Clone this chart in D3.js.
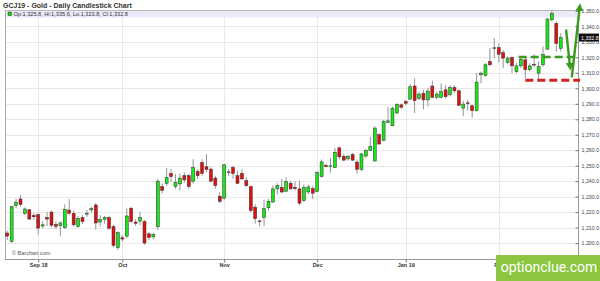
<!DOCTYPE html>
<html>
<head>
<meta charset="utf-8">
<script src="https://cdn.jsdelivr.net/npm/d3@7"></script>
<style>
  body { margin: 0; background: #fff; }
  svg { display: block; font-family: "Liberation Sans", Arial, sans-serif; }
</style>
</head>
<body>
<div id="chart"></div>
<script>
// Daily OHLC for GCJ19 (Aug 23 2018 .. Feb 22 2019)
const opens = [1206.5,1201,1224.3,1228.5,1219.2,1221.5,1217.8,1218.5,1211,1216.5,1220,1212,1211.3,1210,1221.3,1219.2,1210.6,1216.4,1218.7,1221.4,
  1224.6,1213.6,1215.3,1216.4,1210.6,1197,1203.4,1204.5,1222.5,1213.6,1214.2,1213.8,1206,1204,1210.5,1236.5,1238.6,1245,1236.5,1238.2,
  1243.5,1243.5,1240,1246.3,1252,1249.3,1247.8,1242,1230.3,1229,1246,1248.9,1243.5,1245,1240.3,1236.5,1223.2,1214.3,1216.4,1222.8,
  1226.5,1235,1236,1233.5,1238.6,1236,1235,1227.5,1233,1235.2,1233.3,1243,1250.3,1249.4,1248.7,1261.5,1256,1254.4,1257.2,1252.3,
  1247.6,1256.2,1259.8,1253,1270,1266.4,1278,1275.8,1284,1289.3,1291.4,1293,1301.5,1293.5,1296.8,1292.5,1301.5,1294.2,1294.2,1299,
  1295.8,1300.5,1298.4,1287.2,1290.6,1288.7,1285.5,1308.7,1308.3,1317.3,1326,1326.3,1323,1316.7,1320,1310.8,1314.5,1318.4,1312,1315.5,
  1309.8,1315.2,1325.3,1344.2,1342,1325.8];
const highs = [1208,1224,1228.5,1231,1223,1222,1219.5,1219,1214,1220,1221,1214,1214,1225,1228.3,1221,1217.5,1218,1221.4,1223.5,
  1226,1218,1217.5,1217.5,1211.7,1207.5,1205,1222.5,1223.5,1215.5,1220.3,1215,1207,1206.5,1241.5,1238.6,1248.5,1247.8,1244.6,1245,
  1245.7,1244.6,1254.2,1247.8,1254.2,1257.4,1248.9,1243.5,1232.9,1251,1247.8,1250,1246.7,1247.8,1242.5,1237.1,1225,1215,1228,1228.5,
  1237.1,1238.6,1241.4,1242.5,1240.3,1239.7,1240.3,1238,1237.7,1237,1246.5,1254,1250.8,1255,1261.5,1262.5,1257.7,1257,1258.3,1254,
  1258.3,1260.9,1268.5,1275.4,1271,1279.7,1287.8,1288.2,1290.3,1290.3,1292.5,1302.7,1306.4,1297.8,1299,1300,1305,1297.8,1303,1302,
  1302,1302,1299.2,1291.9,1292.5,1289.5,1309.8,1310.8,1316.3,1326,1332.4,1329,1324.7,1320.6,1320.6,1316.3,1320.6,1320,1316.3,1322,
  1317.3,1327,1345.2,1350.6,1343.2,1335.6];
const lows = [1202,1200,1222.5,1223.5,1218,1215,1215,1205.5,1209.5,1211,1210.5,1209,1204.5,1209,1218,1210.5,1210,1212.5,1217,1219.5,
  1208.8,1210.5,1212.5,1208.5,1197.3,1195.5,1201,1203,1213,1211,1211.7,1199,1202,1202.5,1208.5,1232,1237,1239.3,1235,1234,
  1239,1235,1238.3,1241.4,1243.5,1245.7,1239.3,1235,1225.8,1228,1243.5,1241.4,1238,1241,1236,1220,1212.5,1210.5,1211,1221,
  1226,1231.5,1232.3,1232.9,1234.5,1234,1224.4,1226.5,1231.5,1228.5,1232.7,1242.3,1249,1245.5,1248.7,1254,1253,1253.2,1253,1244.9,
  1246.5,1255.1,1259.4,1253,1263.6,1265.8,1277.5,1275.4,1283.6,1286.5,1289.3,1292.7,1284,1292.5,1286.5,1288.2,1293.5,1293,1293.5,1293.5,
  1294.7,1297,1288.5,1282,1285.5,1281,1285,1303.3,1307.5,1314.2,1319.5,1316.7,1313,1315.6,1309.8,1309.8,1313,1306.6,1311,1314,
  1305,1314,1324.9,1343.2,1323.8,1323.8];
const closes = [1204.5,1223.5,1226.5,1225,1222,1215.5,1217,1209.7,1211.8,1215.5,1211.5,1210.7,1213,1221.8,1219.3,1211.8,1216,1213.8,1219.3,1222.2,
  1213,1215.3,1216.6,1209.6,1198.5,1206.7,1202.6,1217.5,1214,1212.8,1216.6,1200,1203.6,1205.7,1240,1234,1242.5,1243,1239.3,1242,
  1240.8,1236.5,1248.9,1243.5,1245,1247.6,1240,1237.2,1227,1250.6,1245.6,1245,1238.6,1241.4,1237.1,1221,1215.8,1213.8,1222.2,1227,
  1235,1237.1,1233,1239.7,1235,1235.2,1225.8,1236,1236.3,1232.2,1245.5,1252.5,1249.5,1249.9,1258.7,1255.7,1253.6,1256,1253.6,1247.6,
  1257.6,1259.8,1262.6,1274.3,1264,1278.6,1279,1287.1,1289.7,1287.8,1290.3,1301,1292,1296.3,1292.5,1298.2,1294.2,1296.3,1297.8,1294.6,
  1300.5,1298.4,1289,1289.8,1290.2,1285.5,1304,1309.8,1315.2,1315.2,1326.2,1322,1319.5,1319.5,1314.5,1314.5,1318.8,1312,1314.5,1315,
  1314,1322,1344.8,1348.5,1329,1332.8];

// Month labels and the bar index where each month starts
const monthLabels = ["Sep 18", "Oct", "Nov", "Dec", "Jan 19", "Feb"];
const monthIdx = [7, 26, 49, 70, 90, 111];
const priceTicks = [1200,1210,1220,1230,1240,1250,1260,1270,1280,1290,1300,1310,1320,1330,1340,1350];

// Support / resistance levels drawn on the chart
const greenLevel = 1320.3;
const redLevel = 1305.2;

const width = 600, height = 281;
const plot = { left: 5, right: 578, top: 10, bottom: 259 };

const svg = d3.select("#chart").append("svg")
    .attr("width", width)
    .attr("height", height);

const x = d3.scaleLinear()
    .domain([-0.5, 128.9])
    .range([plot.left, plot.right]);

const y = d3.scaleLinear()
    .domain([1189.7, 1350.6])
    .range([plot.bottom, plot.top]);

// Title
svg.append("text")
    .attr("x", 3).attr("y", 8)
    .attr("font-size", 7)
    .attr("font-weight", "bold")
    .attr("fill", "#333")
    .text("GCJ19 - Gold - Daily Candlestick Chart");

// Gridlines
svg.append("g")
    .selectAll("line")
    .data(priceTicks)
    .enter().append("line")
    .attr("x1", plot.left).attr("x2", plot.right)
    .attr("y1", d => Math.round(y(d)) + 0.5)
    .attr("y2", d => Math.round(y(d)) + 0.5)
    .attr("stroke", "#e9e9e9");

svg.append("g")
    .selectAll("line")
    .data(monthIdx)
    .enter().append("line")
    .attr("x1", d => Math.round(x(d)) + 0.5)
    .attr("x2", d => Math.round(x(d)) + 0.5)
    .attr("y1", plot.top).attr("y2", plot.bottom)
    .attr("stroke", "#e9e9e9");

// Info bar at top of plot
svg.append("rect")
    .attr("x", plot.left).attr("y", plot.top)
    .attr("width", plot.right - plot.left).attr("height", 7.5)
    .attr("fill", "#e6e6fa").attr("opacity", 0.85);
svg.append("line")
    .attr("x1", plot.left).attr("x2", plot.right)
    .attr("y1", plot.top + 0.5).attr("y2", plot.top + 0.5)
    .attr("stroke", "#bbb");
svg.append("rect")
    .attr("x", 8).attr("y", 12)
    .attr("width", 3.5).attr("height", 3.5)
    .attr("fill", "#00dd00").attr("stroke", "#333").attr("stroke-width", 0.5);
const last = closes.length - 1;
svg.append("text")
    .attr("x", 13.5).attr("y", 15.7)
    .attr("font-size", 5.6)
    .attr("fill", "#333")
    .text(`Op:${d3.format(",.1f")(opens[last])}, Hi:${d3.format(",.1f")(highs[last])}, Lo:${d3.format(",.1f")(lows[last])}, Cl:${d3.format(",.1f")(closes[last])}`);

// Axes lines
svg.append("line")
    .attr("x1", plot.left + 0.5).attr("x2", plot.left + 0.5)
    .attr("y1", plot.top).attr("y2", plot.bottom)
    .attr("stroke", "#aaa");
svg.append("line")
    .attr("x1", plot.left).attr("x2", plot.right)
    .attr("y1", plot.bottom + 0.5).attr("y2", plot.bottom + 0.5)
    .attr("stroke", "#999");

// Right price axis
const yAxis = svg.append("g")
    .attr("transform", `translate(${plot.right + 0.5},0)`)
    .call(d3.axisRight(y).tickValues(priceTicks).tickFormat(d3.format(",.1f")).tickSize(-3).tickPadding(3));
yAxis.select(".domain").attr("stroke", "#999").attr("d", `M0,${plot.top}V${plot.bottom}`);
yAxis.selectAll(".tick line").attr("stroke", "#777");
yAxis.selectAll("text").attr("font-size", 5.3).attr("fill", "#444")
    .attr("font-family", "Liberation Sans, Arial, sans-serif");

// Bottom month axis
const xAxis = svg.append("g")
    .attr("transform", `translate(0,${plot.bottom + 0.5})`)
    .call(d3.axisBottom(x).tickValues(monthIdx).tickFormat((d, i) => monthLabels[i]).tickSize(3).tickPadding(1));
xAxis.select(".domain").remove();
xAxis.selectAll(".tick line").attr("stroke", "#777");
xAxis.selectAll("text").attr("font-size", 5.5).attr("font-weight", "bold").attr("fill", "#333")
    .attr("font-family", "Liberation Sans, Arial, sans-serif");

// Candles
const idx = d3.range(closes.length);
const bw = 3;
const candles = svg.append("g");
candles.selectAll(".wick")
    .data(idx)
    .enter().append("line")
    .attr("x1", i => x(i)).attr("x2", i => x(i))
    .attr("y1", i => y(highs[i])).attr("y2", i => y(lows[i]))
    .attr("stroke", "#888").attr("stroke-width", 0.9);
candles.selectAll(".body")
    .data(idx)
    .enter().append("rect")
    .attr("x", i => x(i) - bw / 2)
    .attr("y", i => y(Math.max(opens[i], closes[i])))
    .attr("width", bw)
    .attr("height", i => Math.max(0.8, Math.abs(y(opens[i]) - y(closes[i]))))
    .attr("fill", i => closes[i] >= opens[i] ? "#19e619" : "#e01010")
    .attr("stroke", "#333").attr("stroke-width", 0.5);

// Watermark
svg.append("text")
    .attr("x", 12).attr("y", 254.5)
    .attr("font-size", 5.5)
    .attr("fill", "#555")
    .text("\u00a9 Barchart.com");

// Last price label
svg.append("rect")
    .attr("x", plot.right + 1).attr("y", y(closes[last]) - 4)
    .attr("width", 20).attr("height", 8)
    .attr("fill", "#111");
svg.append("text")
    .attr("x", plot.right + 3).attr("y", y(closes[last]) + 2)
    .attr("font-size", 5.3).attr("fill", "#fff")
    .text(d3.format(",.1f")(closes[last]));

// Levels and arrows
const green = "#3a9a1e", red = "#d42020";
svg.append("line")
    .attr("x1", x(115.5)).attr("x2", plot.right)
    .attr("y1", y(greenLevel)).attr("y2", y(greenLevel))
    .attr("stroke", green).attr("stroke-width", 2.5).attr("stroke-dasharray", "8,4");
svg.append("line")
    .attr("x1", x(117)).attr("x2", plot.right + 2)
    .attr("y1", y(redLevel)).attr("y2", y(redLevel))
    .attr("stroke", red).attr("stroke-width", 2.8).attr("stroke-dasharray", "8,4");

const defs = svg.append("defs");
defs.append("marker")
    .attr("id", "head")
    .attr("viewBox", "0 0 10 10")
    .attr("refX", 5).attr("refY", 5)
    .attr("markerWidth", 3.2).attr("markerHeight", 3.2)
    .attr("orient", "auto")
    .append("path").attr("d", "M0,0L10,5L0,10Z").attr("fill", green);

svg.append("line")
    .attr("x1", x(126.2)).attr("y1", y(1338))
    .attr("x2", x(127.1)).attr("y2", y(1314))
    .attr("stroke", green).attr("stroke-width", 2.4)
    .attr("marker-end", "url(#head)");
svg.append("line")
    .attr("x1", x(127.5)).attr("y1", y(1307))
    .attr("x2", x(129.3)).attr("y2", y(1352.5))
    .attr("stroke", green).attr("stroke-width", 2.4)
    .attr("marker-end", "url(#head)");

// Site badge
svg.append("rect")
    .attr("x", 496).attr("y", 255)
    .attr("width", 104).attr("height", 26)
    .attr("fill", "#8cc63f");
svg.append("text")
    .attr("x", 549).attr("y", 272)
    .attr("text-anchor", "middle")
    .attr("font-family", "Roboto, sans-serif")
    .attr("font-size", 14)
    .attr("fill", "#fff")
    .text("optionclue.com");
</script>
</body>
</html>
